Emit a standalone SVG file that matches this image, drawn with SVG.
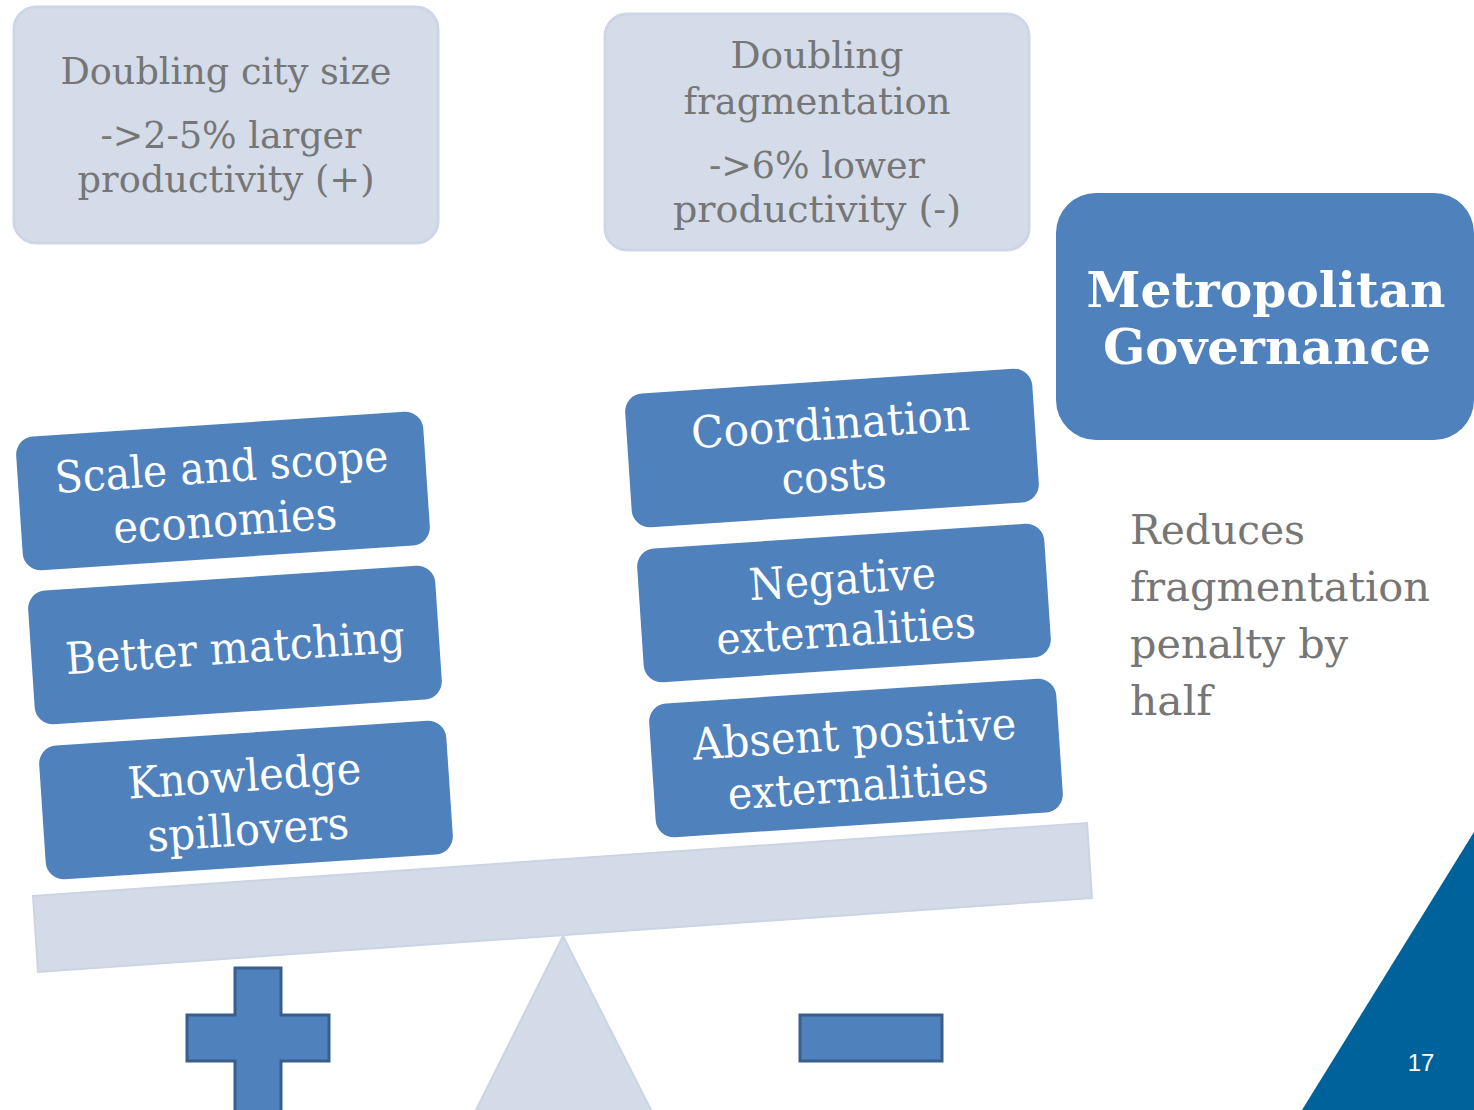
<svg xmlns="http://www.w3.org/2000/svg" width="1474" height="1110" viewBox="0 0 1474 1110">
  <style>
    .info { fill: #d4dcea; stroke: #cdd6e7; stroke-width: 3; }
    .info-text { font-family: "DejaVu Serif", "Liberation Serif", serif; font-size: 37px; fill: #767676; text-anchor: middle; }
    .factor { fill: #4f81bd; }
    .factor-text { font-family: "DejaVu Serif", "Liberation Serif", serif; font-size: 44px; fill: #ffffff; text-anchor: middle; }
    .gov { fill: #4f81bd; }
    .gov-text { font-family: "DejaVu Serif", "Liberation Serif", serif; font-size: 48px; font-weight: bold; fill: #ffffff; text-anchor: middle; }
    .note { font-family: "DejaVu Serif", "Liberation Serif", serif; font-size: 41px; fill: #767676; }
    .scale-part { fill: #d3dbe9; stroke: #cbd4e5; stroke-width: 2; }
    .sign { fill: #4f81bd; stroke: #3a5e8c; stroke-width: 3; }
  </style>

  <rect width="1474" height="1110" fill="#ffffff"/>

  <!-- corner accent and page number -->
  <polygon points="1474,832 1474,1110 1302,1110" fill="#00629b"/>
  <text x="1421" y="1071" font-family="Liberation Sans, Arial, sans-serif" font-size="24" fill="#ffffff" text-anchor="middle">17</text>

  <!-- summary boxes -->
  <g id="city-size">
    <rect class="info" x="14" y="7" width="424" height="236" rx="22"/>
    <text class="info-text" x="226" y="84" textLength="331" lengthAdjust="spacingAndGlyphs">Doubling city size</text>
    <text class="info-text" x="231" y="148" textLength="261" lengthAdjust="spacingAndGlyphs">-&gt;2-5% larger</text>
    <text class="info-text" x="226" y="192" textLength="297" lengthAdjust="spacingAndGlyphs">productivity (+)</text>
  </g>
  <g id="fragmentation">
    <rect class="info" x="605" y="14" width="424" height="236" rx="22"/>
    <text class="info-text" x="817" y="68" textLength="173" lengthAdjust="spacingAndGlyphs">Doubling</text>
    <text class="info-text" x="817" y="114" textLength="267" lengthAdjust="spacingAndGlyphs">fragmentation</text>
    <text class="info-text" x="817" y="178" textLength="216" lengthAdjust="spacingAndGlyphs">-&gt;6% lower</text>
    <text class="info-text" x="817" y="222" textLength="288" lengthAdjust="spacingAndGlyphs">productivity (-)</text>
  </g>

  <!-- governance box and note -->
  <g id="metro-governance">
    <rect class="gov" x="1056" y="193" width="418" height="247" rx="40"/>
    <text class="gov-text" x="1266" y="307" textLength="359" lengthAdjust="spacingAndGlyphs">Metropolitan</text>
    <text class="gov-text" x="1267" y="364" textLength="328" lengthAdjust="spacingAndGlyphs">Governance</text>
  </g>
  <g id="governance-note">
    <text class="note" x="1130" y="544" textLength="175" lengthAdjust="spacingAndGlyphs">Reduces</text>
    <text class="note" x="1130" y="601" textLength="300" lengthAdjust="spacingAndGlyphs">fragmentation</text>
    <text class="note" x="1130" y="658" textLength="218" lengthAdjust="spacingAndGlyphs">penalty by</text>
    <text class="note" x="1130" y="715" textLength="82" lengthAdjust="spacingAndGlyphs">half</text>
  </g>

  <!-- balance: beam and fulcrum -->
  <g id="fulcrum">
    <polygon class="scale-part" points="563,936 652,1112 475,1112"/>
  </g>
  <g id="beam">
    <polygon class="scale-part" points="33,896 1087,823 1092,898 38,972"/>
  </g>

  <!-- benefits (left pan) -->
  <g id="scale-scope" transform="translate(223,491) rotate(-3.8)">
    <rect class="factor" x="-204" y="-67" width="408" height="134" rx="18"/>
    <text class="factor-text" x="0" y="-9" textLength="334" lengthAdjust="spacingAndGlyphs">Scale and scope</text>
    <text class="factor-text" x="0" y="45" textLength="224" lengthAdjust="spacingAndGlyphs">economies</text>
  </g>
  <g id="better-matching" transform="translate(235,645) rotate(-3.8)">
    <rect class="factor" x="-204" y="-67" width="408" height="134" rx="18"/>
    <text class="factor-text" x="0" y="18" textLength="340" lengthAdjust="spacingAndGlyphs">Better matching</text>
  </g>
  <g id="knowledge" transform="translate(246,800) rotate(-3.8)">
    <rect class="factor" x="-204" y="-67" width="408" height="134" rx="18"/>
    <text class="factor-text" x="0" y="-9" textLength="234" lengthAdjust="spacingAndGlyphs">Knowledge</text>
    <text class="factor-text" x="0" y="45" textLength="202" lengthAdjust="spacingAndGlyphs">spillovers</text>
  </g>

  <!-- costs (right pan) -->
  <g id="coordination" transform="translate(832,448) rotate(-3.8)">
    <rect class="factor" x="-204" y="-67" width="408" height="134" rx="18"/>
    <text class="factor-text" x="0" y="-9" textLength="279" lengthAdjust="spacingAndGlyphs">Coordination</text>
    <text class="factor-text" x="0" y="43" textLength="105" lengthAdjust="spacingAndGlyphs">costs</text>
  </g>
  <g id="negative-ext" transform="translate(844,603) rotate(-3.8)">
    <rect class="factor" x="-204" y="-67" width="408" height="134" rx="18"/>
    <text class="factor-text" x="0" y="-9" textLength="187" lengthAdjust="spacingAndGlyphs">Negative</text>
    <text class="factor-text" x="0" y="43" textLength="260" lengthAdjust="spacingAndGlyphs">externalities</text>
  </g>
  <g id="absent-ext" transform="translate(856,758) rotate(-3.8)">
    <rect class="factor" x="-204" y="-67" width="408" height="134" rx="18"/>
    <text class="factor-text" x="0" y="-9" textLength="324" lengthAdjust="spacingAndGlyphs">Absent positive</text>
    <text class="factor-text" x="0" y="43" textLength="261" lengthAdjust="spacingAndGlyphs">externalities</text>
  </g>

  <!-- plus and minus signs -->
  <g id="plus-sign">
    <path class="sign" d="M235,968 H281 V1015 H329 V1061 H281 V1112 H235 V1061 H187 V1015 H235 Z"/>
  </g>
  <g id="minus-sign">
    <rect class="sign" x="800" y="1015" width="142" height="46"/>
  </g>

  <!-- no connectors in this figure -->
  <g id="connectors"/>
</svg>
